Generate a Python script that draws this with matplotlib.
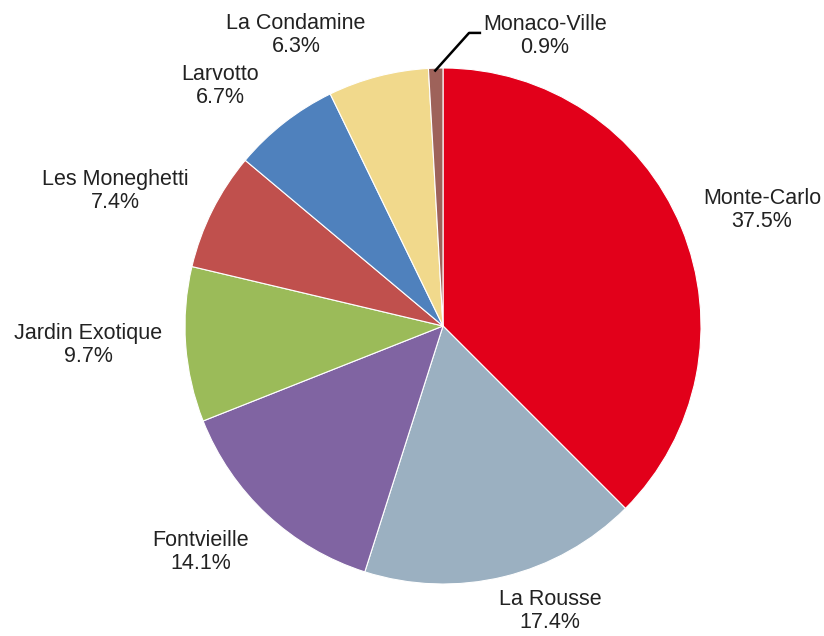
import matplotlib.pyplot as plt

# 地区別の割合 (%)
districts = [
    "Monte-Carlo",
    "La Rousse",
    "Fontvieille",
    "Jardin Exotique",
    "Les Moneghetti",
    "Larvotto",
    "La Condamine",
    "Monaco-Ville",
]
shares = [37.5, 17.4, 14.1, 9.7, 7.4, 6.7, 6.3, 0.9]
colors = [
    "#E2001A",
    "#9BB0C1",
    "#8064A2",
    "#9BBB59",
    "#C0504D",
    "#4F81BD",
    "#F1D98C",
    "#9E625A",
]

# ラベル位置 (半径=1 の座標系)
label_pos = [
    (1.236, 0.450),
    (0.415, -1.105),
    (-0.938, -0.876),
    (-1.376, -0.074),
    (-1.271, 0.523),
    (-0.864, 0.930),
    (-0.570, 1.128),
]


def main() -> int:
    plt.rcParams["font.family"] = ["Liberation Sans", "DejaVu Sans"]

    fig = plt.figure(figsize=(8.24, 6.36), dpi=100)
    ax = fig.add_axes([0, 0, 1, 1])

    wedges, _ = ax.pie(
        shares,
        colors=colors,
        startangle=90,
        counterclock=False,
        radius=1.0,
        wedgeprops={"edgecolor": "white", "linewidth": 0.8},
    )

    for name, val, (x, y) in zip(districts, shares, label_pos):
        ax.text(
            x, y, f"{name}\n{val}%",
            ha="center", va="center",
            fontsize=15.5, color="#222222", linespacing=1.1,
        )

    # Monaco-Ville は引き出し線付き
    ax.plot([-0.03, 0.101, 0.143], [0.99, 1.136, 1.136], color="black", lw=1.8)
    ax.text(
        0.395, 1.125, f"{districts[-1]}\n{shares[-1]}%",
        ha="center", va="center",
        fontsize=15.5, color="#222222", linespacing=1.1,
    )

    ax.set_xlim(-443 / 258, (824 - 443) / 258)
    ax.set_ylim(-(636 - 326) / 258, 326 / 258)
    ax.set_aspect("auto")
    ax.axis("off")

    fig.savefig("out.png", dpi=100, facecolor="white")
    return 0


if __name__ == "__main__":
    raise SystemExit(main())
